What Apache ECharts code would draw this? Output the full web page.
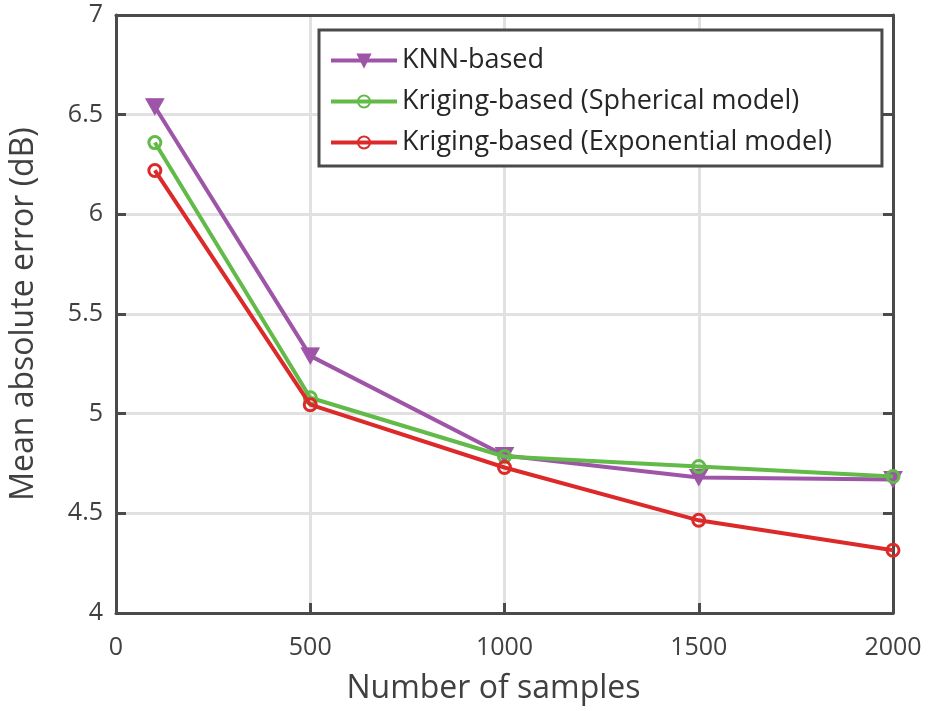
<!DOCTYPE html>
<html><head><meta charset="utf-8">
<script src="https://cdn.jsdelivr.net/npm/echarts@6/dist/echarts.min.js"></script>
<style>html,body{margin:0;padding:0;background:#fff}#c{width:929px;height:711px}</style>
</head><body><div id="c"></div>
<script>
const samples = [100, 500, 1000, 1500, 2000];
const knn = [6.54, 5.29, 4.79, 4.68, 4.67];
const spherical = [6.36, 5.08, 4.785, 4.735, 4.685];
const exponential = [6.22, 5.045, 4.73, 4.465, 4.315];
const seriesNames = ['KNN-based', 'Kriging-based (Spherical model)', 'Kriging-based (Exponential model)'];
const xTicks = [0, 500, 1000, 1500, 2000];
const yTicks = [4, 4.5, 5, 5.5, 6, 6.5, 7];

const FONT = 'Open Sans';
const AX = '#4a4a4a';
const TXT = '#404040';
const LTXT = '#262626';
const GRID = '#e1e1e1';
const cols = ['#9e55a8', '#62ba48', '#dc2a2a'];
const pair = (ys) => samples.map((x, i) => [x, ys[i]]);

const chart = echarts.init(document.getElementById('c'), null, {renderer: 'canvas'});
const axisCommon = {
  axisLine: {show: true, onZero: false, lineStyle: {color: AX, width: 3}},
  axisTick: {show: true, inside: true, length: 10, lineStyle: {color: AX, width: 3}},
  splitLine: {show: false}
};
chart.setOption({
  animation: false,
  grid: {left: 113, right: 36, top: 15, bottom: 98, containLabel: false},
  xAxis: [
    Object.assign({}, axisCommon, {
      type: 'value', min: xTicks[0], max: xTicks[xTicks.length-1], interval: 500,
      position: 'bottom',
      splitLine: {show: true, lineStyle: {color: GRID, width: 3}},
      axisLabel: {color: TXT, fontFamily: FONT, fontSize: 25, margin: 22, formatter: v => String(v)},
      name: 'Number of samples', nameLocation: 'middle', nameGap: 60,
      nameTextStyle: {color: TXT, fontFamily: FONT, fontSize: 32, padding: [0, 22, 0, 0]}
    }),
    Object.assign({}, axisCommon, {
      type: 'value', min: 0, max: 2000, interval: 500, position: 'top',
      axisLabel: {show: false}, axisTick: {show: false}
    })
  ],
  yAxis: [
    Object.assign({}, axisCommon, {
      type: 'value', min: yTicks[0], max: yTicks[yTicks.length-1], interval: 0.5,
      position: 'left',
      splitLine: {show: true, lineStyle: {color: GRID, width: 3}},
      axisLabel: {color: TXT, fontFamily: FONT, fontSize: 25, margin: 13},
      name: 'Mean absolute error (dB)', nameLocation: 'middle', nameGap: 76,
      nameTextStyle: {color: TXT, fontFamily: FONT, fontSize: 32}
    }),
    Object.assign({}, axisCommon, {
      type: 'value', min: 4, max: 7, interval: 0.5, position: 'right',
      axisLabel: {show: false}
    })
  ],
  legend: {
    orient: 'vertical', left: 319, top: 30,
    padding: [17, 50, 10, 10],
    itemGap: 14, itemWidth: 66, itemHeight: 15,
    borderColor: AX, borderWidth: 3, backgroundColor: '#fff',
    lineStyle: {width: 4},
    textStyle: {color: LTXT, fontFamily: FONT, fontSize: 27},
    data: seriesNames
  },
  series: [
    {
      name: seriesNames[0], type: 'line', data: pair(knn),
      symbol: 'triangle', symbolRotate: 180, symbolSize: [18, 16],
      lineStyle: {color: cols[0], width: 4},
      itemStyle: {color: cols[0], borderColor: cols[0], borderWidth: 1},
      z: 3
    },
    {
      name: seriesNames[1], type: 'line', data: pair(spherical),
      symbol: 'circle', symbolSize: 12,
      lineStyle: {color: cols[1], width: 4},
      itemStyle: {color: 'rgba(255,255,255,0)', borderColor: cols[1], borderWidth: 3},
      z: 4
    },
    {
      name: seriesNames[2], type: 'line', data: pair(exponential),
      symbol: 'circle', symbolSize: 12,
      lineStyle: {color: cols[2], width: 4},
      itemStyle: {color: 'rgba(255,255,255,0)', borderColor: cols[2], borderWidth: 3},
      z: 5
    }
  ]
});
</script></body></html>
